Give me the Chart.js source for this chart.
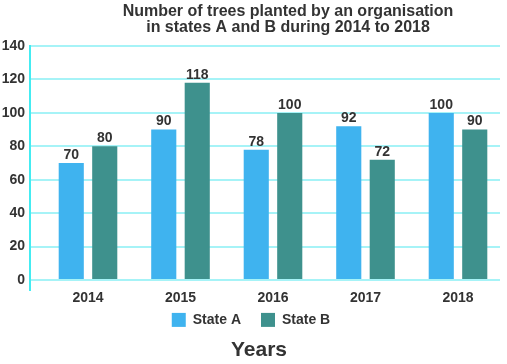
<!DOCTYPE html>
<html>
<head>
<meta charset="utf-8">
<script src="https://cdn.jsdelivr.net/npm/chart.js@4/dist/chart.umd.min.js"></script>
<style>
html,body{margin:0;padding:0;background:#fff;}
#wrap{width:507px;height:364px;position:relative;}
</style>
</head>
<body>
<div id="wrap"><canvas id="c" width="507" height="364"></canvas></div>
<script>
const years = ['2014', '2015', '2016', '2017', '2018'];
const stateA = [70, 90, 78, 92, 100];
const stateB = [80, 118, 100, 72, 90];
const yTicks = [0, 20, 40, 60, 80, 100, 120, 140];
const titleLines = ['Number of trees planted by an organisation', 'in states A and B during 2014 to 2018'];
const xTitle = 'Years';

const TEXT = '#333333';
const FONT = 'Liberation Sans, Arial, sans-serif';

const valueLabels = {
  id: 'valueLabels',
  afterDatasetsDraw(chart) {
    const ctx = chart.ctx;
    ctx.save();
    ctx.font = 'bold 14px ' + FONT;
    ctx.fillStyle = TEXT;
    ctx.textAlign = 'center';
    ctx.textBaseline = 'bottom';
    chart.data.datasets.forEach((ds, di) => {
      chart.getDatasetMeta(di).data.forEach((bar, i) => {
        ctx.fillText(String(ds.data[i].y), bar.x, bar.y - 1);
      });
    });
    ctx.restore();
  }
};

const shiftBoxes = {
  id: 'shiftBoxes',
  afterLayout(chart) {
    chart.boxes.forEach(b => {
      if (b === chart.titleBlock) { b.left += 38; b.right += 38; }
      else if (b === chart.legend) { b.left += 1; b.right += 1; }
      else if (b.options && b.options.text === xTitle) { b.left += 9; b.right += 9; }
    });
    const xs = chart.scales.x;
    xs.bottom += 14;
    xs.height += 14;
  }
};

new Chart(document.getElementById('c'), {
  type: 'bar',
  data: {
    datasets: [
      { label: 'State A', data: stateA.map((v, i) => ({x: i, y: v})), backgroundColor: '#3fb3ef', borderWidth: 0 },
      { label: 'State B', data: stateB.map((v, i) => ({x: i, y: v})), backgroundColor: '#3e918d', borderWidth: 0 }
    ]
  },
  options: {
    responsive: false,
    animation: false,
    categoryPercentage: 0.724,
    barPercentage: 0.75,
    layout: { padding: { left: 0, right: 7, top: 0, bottom: 0 } },
    plugins: {
      title: {
        display: true,
        text: titleLines,
        color: TEXT,
        font: { family: FONT, size: 16, weight: 'bold', lineHeight: 1.0 },
        padding: { top: 4, bottom: 10 }
      },
      subtitle: {
        display: true,
        position: 'bottom',
        text: xTitle,
        color: TEXT,
        font: { family: FONT, size: 21, weight: 'bold', lineHeight: 1.1 },
        padding: { top: 2, bottom: 2 }
      },
      legend: {
        position: 'bottom',
        labels: {
          color: TEXT,
          font: { family: FONT, size: 14, weight: 'bold' },
          boxWidth: 14,
          boxHeight: 14,
          padding: 20
        }
      },
      tooltip: { enabled: false }
    },
    scales: {
      x: {
        type: 'linear',
        offset: false,
        min: -0.627,
        max: 4.454,
        grid: { display: false, drawTicks: false },
        border: { display: false },
        afterBuildTicks(axis) { axis.ticks = years.map((y, i) => ({ value: i })); },
        afterFit(axis) { axis.height = axis.height - 14; },
        ticks: {
          padding: 0,
          color: TEXT,
          font: { family: FONT, size: 14, weight: 'bold' },
          callback: (v) => years[v]
        }
      },
      y: {
        min: -6,
        max: 140,
        afterBuildTicks(axis) { axis.ticks = yTicks.map(v => ({ value: v })); },
        afterFit(axis) { axis.width = 30; },
        grid: { color: '#a6f3f7', lineWidth: 2, drawTicks: false },
        border: { display: true, color: '#44ecf2', width: 2 },
        ticks: {
          padding: 5,
          color: TEXT,
          font: { family: FONT, size: 14, weight: 'bold' }
        }
      }
    }
  },
  plugins: [valueLabels, shiftBoxes]
});
</script>
</body>
</html>
